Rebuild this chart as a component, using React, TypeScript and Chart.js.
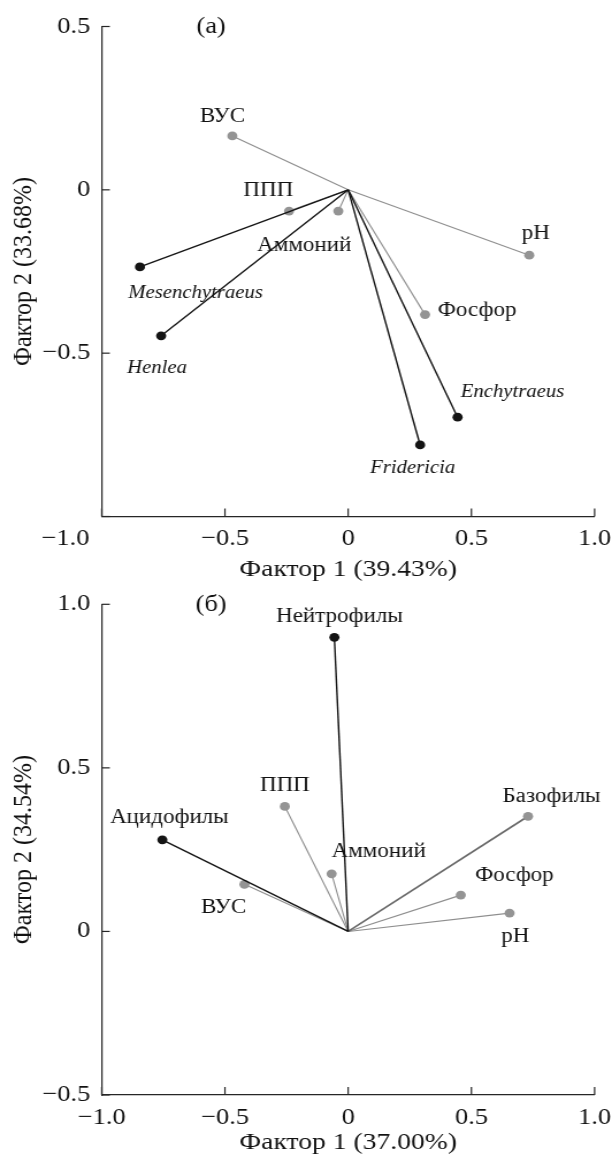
import React, { useEffect, useRef } from 'react';
import { Chart, registerables } from 'chart.js';

Chart.register(...registerables);

const FONT = "'Liberation Serif', 'Times New Roman', serif";
// the reference figure is horizontally stretched; the canvas is drawn narrower and widened by CSS
const STRETCH = 1.15;
const PAGE_W = 612;
const CANVAS_W = Math.round(PAGE_W / STRETCH);
const AXIS_LEFT = 101.7 / STRETCH;
const AXIS_RIGHT = 594.4 / STRETCH;
const TICK_SIZE = 23;
const TITLE_SIZE = 24;

// ---------- Panel (a) ----------
const A_X_TICKS = [-1, -0.5, 0, 0.5, 1];
const A_Y_TICKS = [-1, -0.5, 0, 0.5];
const A_X_TITLE = 'Фактор 1 (39.43%)';
const A_Y_TITLE = 'Фактор 2 (33.68%)';
const A_ENV_NAMES = ['ВУС', 'ППП', 'Аммоний', 'pH', 'Фосфор'];
const A_ENV_X = [-0.47, -0.24, -0.04, 0.735, 0.312];
const A_ENV_Y = [0.165, -0.065, -0.065, -0.2, -0.382];
const A_TAXA_NAMES = ['Mesenchytraeus', 'Henlea', 'Enchytraeus', 'Fridericia'];
const A_TAXA_X = [-0.845, -0.759, 0.444, 0.292];
const A_TAXA_Y = [-0.236, -0.447, -0.696, -0.781];

// ---------- Panel (б) ----------
const B_X_TICKS = [-1, -0.5, 0, 0.5, 1];
const B_Y_TICKS = [-0.5, 0, 0.5, 1];
const B_X_TITLE = 'Фактор 1 (37.00%)';
const B_Y_TITLE = 'Фактор 2 (34.54%)';
const B_ENV_NAMES = ['ППП', 'Аммоний', 'ВУС', 'Фосфор', 'pH'];
const B_ENV_X = [-0.257, -0.067, -0.421, 0.457, 0.655];
const B_ENV_Y = [0.382, 0.176, 0.144, 0.111, 0.056];
const B_GROUP_NAMES = ['Нейтрофилы', 'Ацидофилы', 'Базофилы'];
const B_GROUP_X = [-0.056, -0.754, 0.73];
const B_GROUP_Y = [0.899, 0.28, 0.352];

// ---------- label placement (pixel offsets from the point, canvas units) ----------
const A_ENV_LABEL_OFFSET = [[-8.5, -19.3], [-18, -20.7], [-29.6, 34.3], [5.7, -21.7], [45.2, -3.7]];
const A_TAXA_LABEL_OFFSET = [[48.3, 26.6], [-3.5, 32], [47.7, -24.7], [-6.4, 23]];
const B_ENV_LABEL_OFFSET = [[0, -21], [40.9, -22.3], [-18, 23.7], [46.6, -19.7], [5.1, 24]];
const B_GROUP_LABEL_OFFSET = [[4.4, -21], [6.1, -21.7], [20.4, -19.7]];

const STYLE: Record<string, { line: string; width: number; point: string }> = {
  env: { line: '#8e8e8e', width: 1.1, point: '#949494' },
  taxon: { line: '#141414', width: 1.4, point: '#141414' },
  baso: { line: '#6a6a6a', width: 1.7, point: '#949494' },
};

const fmt = (v: number) => (v === 0 ? '0' : (v < 0 ? '\u2212' : '') + Math.abs(v).toFixed(1));

type Vec = { x: number; y: number; kind: string };
type Lab = { text: string; x: number; y: number; dx: number; dy: number; italic: boolean };

type PanelSpec = {
  height: number;
  padTop: number;
  axisBottom: number;
  yMin: number;
  yMax: number;
  xTicks: number[];
  yTicks: number[];
  xTitle: string;
  yTitle: string;
  xTickPad: number;
  xTitlePadBottom: number;
  firstXLabelShift: number;
  letter: string;
  letterY: number;
  vectors: Vec[];
  labels: Lab[];
};

function makeDecor(spec: PanelSpec) {
  return {
    id: 'decor',
    afterDraw(chart: any) {
      const ctx = chart.ctx as CanvasRenderingContext2D;
      const xs = chart.scales.x;
      const ys = chart.scales.y;
      const area = chart.chartArea;
      ctx.save();
      ctx.strokeStyle = '#262626';
      ctx.lineWidth = 1.2;
      spec.xTicks.forEach((v) => {
        const px = xs.getPixelForValue(v);
        ctx.beginPath();
        ctx.moveTo(px, area.bottom);
        ctx.lineTo(px, area.bottom - 8);
        ctx.stroke();
      });
      spec.yTicks.forEach((v) => {
        const py = ys.getPixelForValue(v);
        ctx.beginPath();
        ctx.moveTo(area.left, py);
        ctx.lineTo(area.left + 7, py);
        ctx.stroke();
      });
      ctx.fillStyle = '#111';
      ctx.textAlign = 'center';
      ctx.textBaseline = 'middle';
      spec.labels.forEach((l) => {
        ctx.font = l.italic ? `italic 18px ${FONT}` : `20px ${FONT}`;
        ctx.fillText(l.text, xs.getPixelForValue(l.x) + l.dx, ys.getPixelForValue(l.y) + l.dy);
      });
      ctx.font = `${TICK_SIZE}px ${FONT}`;
      ctx.fillText(spec.letter, 183.5, spec.letterY);
      ctx.restore();
    },
  };
}

function makeConfig(spec: PanelSpec): any {
  const datasets = spec.vectors.map((v) => {
    const st = STYLE[v.kind];
    return {
      type: 'scatter',
      data: [
        { x: 0, y: 0 },
        { x: v.x, y: v.y },
      ],
      showLine: true,
      borderColor: st.line,
      borderWidth: st.width,
      pointRadius: [0, 4.4],
      pointHoverRadius: [0, 4.4],
      pointBackgroundColor: st.point,
      pointBorderColor: st.point,
      pointBorderWidth: 0,
      clip: false,
    };
  });
  const tickFont = { family: FONT, size: TICK_SIZE };
  const titleFont = { family: FONT, size: TITLE_SIZE };
  const border = { display: true, color: '#262626', width: 1.2 };
  return {
    type: 'scatter',
    data: { datasets },
    options: {
      animation: false,
      responsive: false,
      devicePixelRatio: 1,
      events: [],
      layout: { padding: { top: spec.padTop, right: CANVAS_W - AXIS_RIGHT, left: 0, bottom: 0 } },
      plugins: { legend: { display: false }, tooltip: { enabled: false } },
      scales: {
        x: {
          type: 'linear',
          position: 'bottom',
          min: spec.xTicks[0],
          max: spec.xTicks[spec.xTicks.length - 1],
          afterBuildTicks: (s: any) => {
            s.ticks = spec.xTicks.map((value) => ({ value }));
          },
          grid: { display: false, drawTicks: false },
          border,
          ticks: {
            font: tickFont,
            color: '#111',
            padding: spec.xTickPad,
            maxRotation: 0,
            autoSkip: false,
            callback: (v: number, i: number) =>
              i === 0 ? fmt(v) + ' '.repeat(spec.firstXLabelShift) : fmt(v),
          },
          title: {
            display: true,
            text: spec.xTitle,
            font: titleFont,
            color: '#111',
            padding: { top: 0, bottom: spec.xTitlePadBottom },
          },
          afterFit: (s: any) => {
            s.height = spec.height - spec.axisBottom;
            s.paddingLeft = 0;
            s.paddingRight = 0;
          },
        },
        y: {
          type: 'linear',
          position: 'left',
          min: spec.yMin,
          max: spec.yMax,
          afterBuildTicks: (s: any) => {
            s.ticks = spec.yTicks.map((value) => ({ value }));
          },
          grid: { display: false, drawTicks: false },
          border,
          ticks: {
            font: tickFont,
            color: '#111',
            padding: 10,
            autoSkip: false,
            callback: (v: number) => (v === -1 ? '' : fmt(v)),
          },
          title: {
            display: true,
            text: spec.yTitle,
            font: titleFont,
            color: '#111',
            padding: { top: 6.6, bottom: 0 },
          },
          afterFit: (s: any) => {
            s.width = AXIS_LEFT;
            s.paddingTop = 0;
            s.paddingBottom = 0;
          },
        },
      },
    },
    plugins: [makeDecor(spec)],
  };
}

const mkLabels = (names: string[], xs: number[], ys: number[], off: number[][], italic: boolean): Lab[] =>
  names.map((text, i) => ({ text, x: xs[i], y: ys[i], dx: off[i][0], dy: off[i][1], italic }));

const PANEL_A: PanelSpec = {
  height: 590,
  padTop: 26.5,
  axisBottom: 516.5,
  yMin: -1,
  yMax: 0.5,
  xTicks: A_X_TICKS,
  yTicks: A_Y_TICKS,
  xTitle: A_X_TITLE,
  yTitle: A_Y_TITLE,
  xTickPad: 8.7,
  xTitlePadBottom: 5.6,
  firstXLabelShift: 11,
  letter: '(a)',
  letterY: 27,
  vectors: [
    ...A_TAXA_NAMES.map((_, i) => ({ x: A_TAXA_X[i], y: A_TAXA_Y[i], kind: 'taxon' })),
    ...A_ENV_NAMES.map((_, i) => ({ x: A_ENV_X[i], y: A_ENV_Y[i], kind: 'env' })),
  ],
  labels: [
    ...mkLabels(A_ENV_NAMES, A_ENV_X, A_ENV_Y, A_ENV_LABEL_OFFSET, false),
    ...mkLabels(A_TAXA_NAMES, A_TAXA_X, A_TAXA_Y, A_TAXA_LABEL_OFFSET, true),
  ],
};

const PANEL_B: PanelSpec = {
  height: 569,
  padTop: 14.3,
  axisBottom: 505,
  yMin: -0.5,
  yMax: 1,
  xTicks: B_X_TICKS,
  yTicks: B_Y_TICKS,
  xTitle: B_X_TITLE,
  yTitle: B_Y_TITLE,
  xTickPad: 9.2,
  xTitlePadBottom: 1.6,
  firstXLabelShift: 0,
  letter: '(б)',
  letterY: 15,
  vectors: [
    ...B_GROUP_NAMES.map((n, i) => ({
      x: B_GROUP_X[i],
      y: B_GROUP_Y[i],
      kind: n === 'Базофилы' ? 'baso' : 'taxon',
    })),
    ...B_ENV_NAMES.map((_, i) => ({ x: B_ENV_X[i], y: B_ENV_Y[i], kind: 'env' })),
  ],
  labels: [
    ...mkLabels(B_ENV_NAMES, B_ENV_X, B_ENV_Y, B_ENV_LABEL_OFFSET, false),
    ...mkLabels(B_GROUP_NAMES, B_GROUP_X, B_GROUP_Y, B_GROUP_LABEL_OFFSET, false),
  ],
};

function Panel({ spec, top }: { spec: PanelSpec; top: number }) {
  const ref = useRef<HTMLCanvasElement>(null);
  useEffect(() => {
    const chart = new Chart(ref.current as HTMLCanvasElement, makeConfig(spec));
    return () => chart.destroy();
  }, [spec]);
  return (
    <canvas
      ref={ref}
      width={CANVAS_W}
      height={spec.height}
      style={{
        position: 'absolute',
        left: 0,
        top,
        width: `${PAGE_W}px`,
        height: `${spec.height}px`,
        display: 'block',
      }}
    />
  );
}

export default function App() {
  return (
    <div style={{ position: 'absolute', left: 0, top: 0, width: PAGE_W, height: 1159, background: '#fff' }}>
      <Panel spec={PANEL_A} top={0} />
      <Panel spec={PANEL_B} top={590} />
    </div>
  );
}
